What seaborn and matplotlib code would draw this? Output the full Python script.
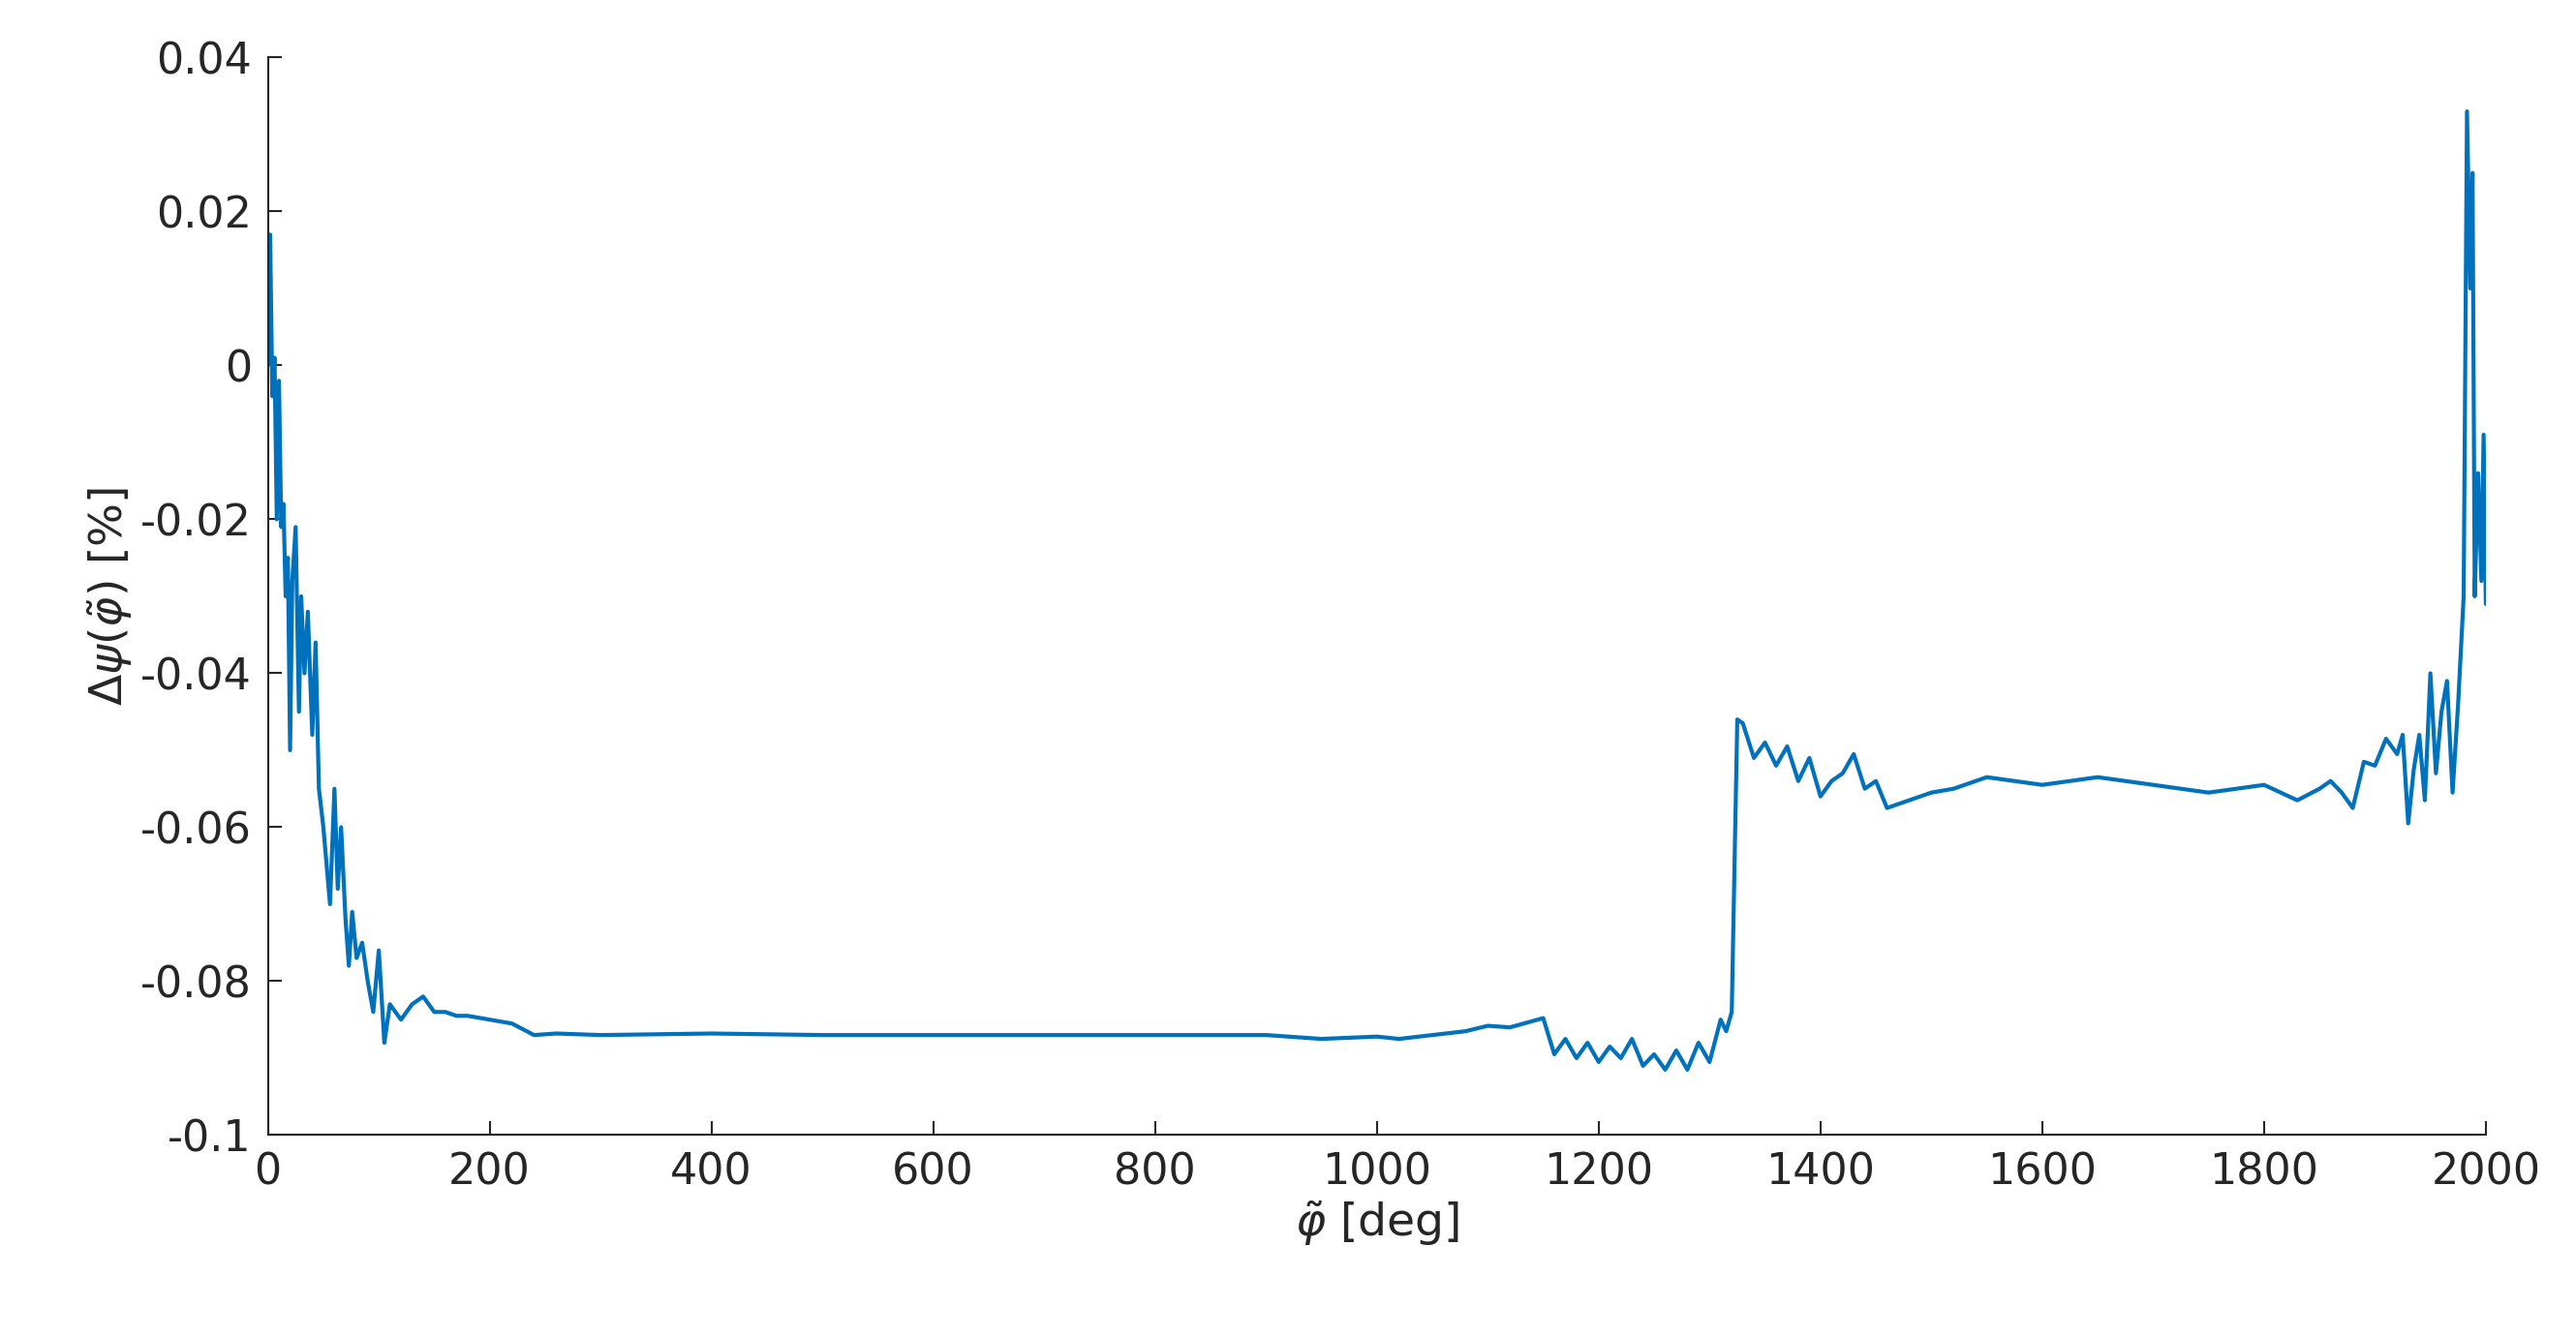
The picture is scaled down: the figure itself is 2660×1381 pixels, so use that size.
import matplotlib
matplotlib.use("Agg")
import matplotlib.pyplot as plt
import seaborn as sns
import pandas as pd

phi = [0,2,4,6,8,10,12,14,16,18,20,22,25,28,30,33,36,40,43,46,50,53,56,60,63,66,70,73,76,80,85,90,95,100,105,110,120,130,140,150,160,170,180,200,220,240,260,300,400,500,600,700,800,900,950,1000,1020,1050,1080,1100,1120,1150,1160,1170,1180,1190,1200,1210,1220,1230,1240,1250,1260,1270,1280,1290,1300,1310,1315,1320,1325,1330,1340,1350,1360,1370,1380,1390,1400,1410,1420,1430,1440,1450,1460,1480,1500,1520,1550,1600,1650,1700,1750,1800,1830,1850,1860,1870,1880,1890,
       1900,1910,1920,1925,1930,1935,1940,1945,1950,1955,1960,1965,1970,1975,1980,1983,1986,1988,1990,1993,1996,1998,2000]
dpsi = [0.0,0.017,-0.004,0.001,-0.02,-0.002,-0.021,-0.018,-0.03,-0.025,-0.05,-0.028,-0.021,-0.045,-0.03,-0.04,-0.032,-0.048,-0.036,-0.055,-0.06,-0.065,-0.07,-0.055,-0.068,-0.06,-0.072,-0.078,-0.071,-0.077,-0.075,-0.08,-0.084,-0.076,-0.088,-0.083,-0.085,-0.083,-0.082,-0.084,-0.084,-0.0845,-0.0845,-0.085,-0.0855,-0.087,-0.0868,-0.087,-0.0868,-0.087,-0.087,-0.087,-0.087,-0.087,-0.0875,-0.0872,-0.0875,-0.087,-0.0865,-0.0858,-0.086,-0.0848,-0.0895,-0.0875,-0.09,-0.088,-0.0905,-0.0885,-0.09,-0.0875,-0.091,-0.0895,-0.0915,-0.089,-0.0915,-0.088,-0.0905,-0.085,-0.0865,-0.084,-0.046,-0.0465,-0.051,-0.049,-0.052,-0.0495,-0.054,-0.051,-0.056,-0.054,-0.053,-0.0505,-0.055,-0.054,-0.0575,-0.0565,-0.0555,-0.055,-0.0535,-0.0545,-0.0535,-0.0545,-0.0555,-0.0545,-0.0565,-0.055,-0.054,-0.0555,-0.0575,-0.0515,
        -0.052,-0.0485,-0.0505,-0.048,-0.0595,-0.0525,-0.048,-0.0565,-0.04,-0.053,-0.045,-0.041,-0.0555,-0.044,-0.03,0.033,0.01,0.025,-0.03,-0.014,-0.028,-0.009,-0.031]

df = pd.DataFrame({"phi": phi, "dpsi": dpsi})
sns.set_style("white")
plt.rcParams['font.family'] = ['DejaVu Sans']
fig = plt.figure(figsize=(26.6, 13.81), dpi=100)
ax = fig.add_axes([0.104, 0.151, 0.861, 0.806])
sns.lineplot(data=df, x="phi", y="dpsi", ax=ax, color="#0072BD", linewidth=3)
ax.set_xlim(0, 2000)
ax.set_ylim(-0.1, 0.04)
ax.set_xticks(range(0, 2001, 200))
ax.set_yticks([-0.1, -0.08, -0.06, -0.04, -0.02, 0, 0.02, 0.04])
ax.set_yticklabels(["-0.1", "-0.08", "-0.06", "-0.04", "-0.02", "0", "0.02", "0.04"])
for s in ["top", "right"]:
    ax.spines[s].set_visible(False)
for s in ["left", "bottom"]:
    ax.spines[s].set_color("#262626")
    ax.spines[s].set_linewidth(1.5)
ax.tick_params(direction="in", length=10, width=1.5, colors="#262626", labelsize=32, pad=12, left=True, bottom=True)
ax.set_xlabel(r"$\tilde{\varphi}$ [deg]", fontsize=34, color="#262626")
ax.set_ylabel(r"$\Delta\psi(\tilde{\varphi})$ [%]", fontsize=34, color="#262626")
fig.savefig("out.png", dpi=100)
